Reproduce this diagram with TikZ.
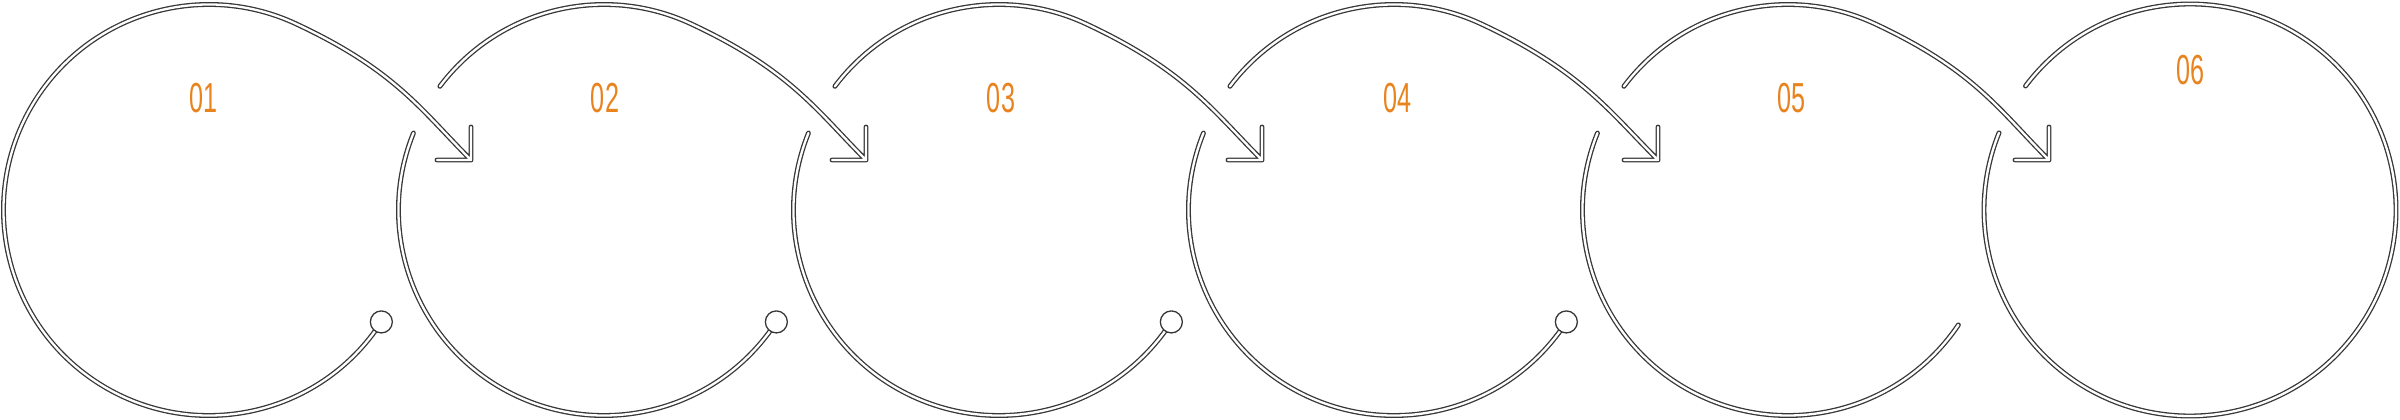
\documentclass[tikz,border=0pt]{standalone}
\usepackage{fontspec}
\setmainfont{Liberation Sans}
\usetikzlibrary{calc}
\definecolor{ink}{RGB}{55,55,55}
\definecolor{accent}{RGB}{232,131,30}
\tikzset{
  ring/.style={draw=ink, line width=1.3pt, double=white, double distance=2.3pt, line cap=round, line join=round},
  marker/.style={circle, draw=ink, line width=1.3pt, fill=white, minimum size=22pt, inner sep=0pt},
  num/.style={text=accent, font=\fontsize{42}{42}\selectfont, inner sep=0pt}
}
\newcommand{\numtext}[1]{\scalebox{0.6}[1]{#1}}
\begin{document}
\begin{tikzpicture}[x=1pt,y=1pt]
\useasboundingbox (0,0) rectangle (2400,420);
% circle centres
\coordinate (c1) at (209,210);
\coordinate (c2) at (604,210);
\coordinate (c3) at (999,210);
\coordinate (c4) at (1394,210);
\coordinate (c5) at (1788,210);
\coordinate (c6) at (2190,210);
% arrow tips
\coordinate (t2) at (471,260);
\coordinate (t3) at (866,260);
\coordinate (t4) at (1262,260);
\coordinate (t5) at (1658,260);
\coordinate (t6) at (2049,260);

% stage 1: one stroke from the marker round to the arrow
\draw[ring] ($(c1)+(-33:205.5)$) arc[start angle=-33, end angle=-295, radius=205.5]
  .. controls +(-25:110) and +(135:70) .. (t2)
  ([xshift=-34pt]t2) -- (t2) -- ([yshift=33pt]t2);
\node[marker] (m1) at ($(c1)+(-33:205.5)$) {};

% stage 2
\draw[ring] ($(c2)+(143:205.5)$) arc[start angle=143, end angle=65, radius=205.5]
  .. controls +(-25:110) and +(135:70) .. (t3)
  ([xshift=-34pt]t3) -- (t3) -- ([yshift=33pt]t3);
\draw[ring] ($(c2)+(158:205.5)$) arc[start angle=158, end angle=327, radius=205.5];
\node[marker] (m2) at ($(c2)+(-33:205.5)$) {};

% stage 3
\draw[ring] ($(c3)+(143:205.5)$) arc[start angle=143, end angle=65, radius=205.5]
  .. controls +(-25:110) and +(135:70) .. (t4)
  ([xshift=-34pt]t4) -- (t4) -- ([yshift=33pt]t4);
\draw[ring] ($(c3)+(158:205.5)$) arc[start angle=158, end angle=327, radius=205.5];
\node[marker] (m3) at ($(c3)+(-33:205.5)$) {};

% stage 4
\draw[ring] ($(c4)+(143:205.5)$) arc[start angle=143, end angle=65, radius=205.5]
  .. controls +(-25:110) and +(135:70) .. (t5)
  ([xshift=-34pt]t5) -- (t5) -- ([yshift=33pt]t5);
\draw[ring] ($(c4)+(158:205.5)$) arc[start angle=158, end angle=327, radius=205.5];
\node[marker] (m4) at ($(c4)+(-33:205.5)$) {};

% stage 5
\draw[ring] ($(c5)+(143:205.5)$) arc[start angle=143, end angle=65, radius=205.5]
  .. controls +(-25:110) and +(135:70) .. (t6)
  ([xshift=-34pt]t6) -- (t6) -- ([yshift=33pt]t6);
\draw[ring] ($(c5)+(158:205.5)$) arc[start angle=158, end angle=326, radius=205.5];

% stage 6
\draw[ring] ($(c6)+(143:206)$) arc[start angle=143, end angle=-202, radius=206];

% numbers
\node[num] (n1) at (204,322) {\numtext{01}};
\node[num] (n2) at (605,322) {\numtext{02}};
\node[num] (n3) at (1001,322) {\numtext{03}};
\node[num] (n4) at (1397,322) {\numtext{04}};
\node[num] (n5) at (1791,322) {\numtext{05}};
\node[num] (n6) at (2190,350) {\numtext{06}};
\end{tikzpicture}
\end{document}
